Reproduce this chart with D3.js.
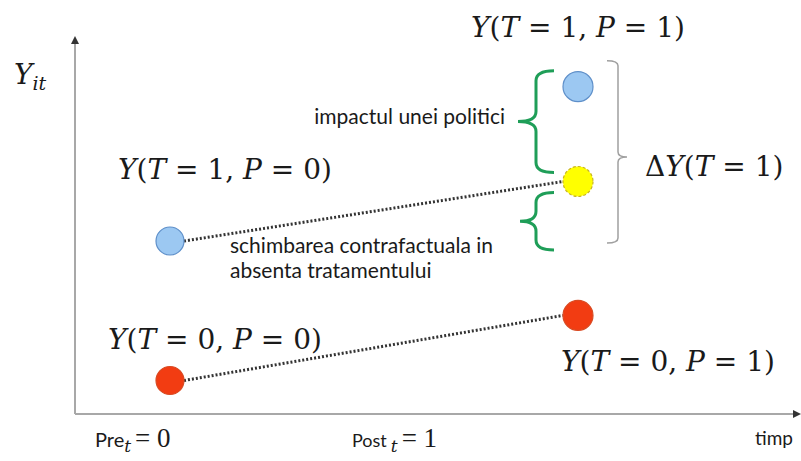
<!DOCTYPE html>
<html>
<head>
<meta charset="utf-8">
<script src="https://cdn.jsdelivr.net/npm/d3@7"></script>
<style>
  body { margin: 0; background: #fff; }
  svg { display: block; }
</style>
</head>
<body>
<div id="chart"></div>
<script>
// time periods on the x axis
var periods = ["Pre", "Post"];
var periodValues = [0, 1];

// outcome points (group T, period P, outcome level)
var pointIds = ["blue0", "red0", "red1", "yellow", "blue1"];
var pointPeriods = ["Pre", "Pre", "Post", "Post", "Post"];
var pointValues = [4.65, 0.9, 2.65, 6.25, 8.8];
var pointTypes = ["treated", "control", "control", "counterfactual", "treated"];

// point labels
var pointLabels = ["Y(T = 1, P = 0)", "Y(T = 0, P = 0)", "Y(T = 0, P = 1)", "", "Y(T = 1, P = 1)"];

// annotation texts
var yAxisLabel = ["Y", "it"];
var xAxisLabel = "timp";
var impactLabel = "impactul unei politici";
var changeLabel = ["schimbarea contrafactuala in", "absenta tratamentului"];
var deltaLabel = "\u0394Y(T = 1)";

var width = 801, height = 461;

var svg = d3.select("#chart").append("svg")
  .attr("width", width)
  .attr("height", height);

svg.append("rect").attr("width", width).attr("height", height).attr("fill", "#fff");

var x = d3.scalePoint()
  .domain(periods)
  .range([170, 578]);

var y = d3.scaleLinear()
  .domain([0, 10])
  .range([414, 42]);

var axisLeftX = 75, axisBottomY = 414;

var defs = svg.append("defs");
defs.append("marker")
  .attr("id", "arrow")
  .attr("viewBox", "0 0 10 10")
  .attr("refX", 5).attr("refY", 5)
  .attr("markerWidth", 4).attr("markerHeight", 4)
  .attr("orient", "auto")
  .append("path")
  .attr("d", "M0,0 L10,5 L0,10 z")
  .attr("fill", "#333");

// axes (no ticks)
var xAxisG = svg.append("g")
  .attr("transform", "translate(0," + axisBottomY + ")")
  .call(d3.axisBottom(d3.scaleLinear().domain([0, 1]).range([axisLeftX, 797])).tickSize(0).tickValues([]));
xAxisG.select(".domain").attr("stroke", "#a8a8a8").attr("stroke-width", 2)
  .attr("d", "M" + axisLeftX + ",0H797")
  .attr("marker-end", "url(#arrow)");

var yAxisG = svg.append("g")
  .attr("transform", "translate(" + axisLeftX + ",0)")
  .call(d3.axisLeft(d3.scaleLinear().domain([0, 1]).range([axisBottomY, 40])).tickSize(0).tickValues([]));
yAxisG.select(".domain").attr("stroke", "#a8a8a8").attr("stroke-width", 2)
  .attr("d", "M0," + axisBottomY + "V40")
  .attr("marker-end", "url(#arrow)");

var pts = pointIds.map(function(id, i) {
  return { id: id, period: pointPeriods[i], value: pointValues[i], type: pointTypes[i], label: pointLabels[i] };
});
function P(id) { return pts.find(function(d) { return d.id === id; }); }

// dotted trend lines
var links = [["blue0", "yellow"], ["red0", "red1"]];
svg.selectAll(".trend")
  .data(links)
  .enter()
  .append("line")
  .attr("x1", function(d) { return x(P(d[0]).period) + 14; })
  .attr("y1", function(d) { return y(P(d[0]).value); })
  .attr("x2", function(d) { return x(P(d[1]).period) - 15; })
  .attr("y2", function(d) { return y(P(d[1]).value); })
  .attr("stroke", "#333")
  .attr("stroke-width", 3)
  .attr("stroke-dasharray", "2,2");

// braces
function leftBrace(xEnd, xSpine, xTip, y0, y1) {
  var ym = (y0 + y1) / 2, r = 10;
  return "M" + xEnd + "," + y0 +
    " Q" + xSpine + "," + y0 + " " + xSpine + "," + (y0 + r) +
    " L" + xSpine + "," + (ym - r) +
    " Q" + xSpine + "," + ym + " " + xTip + "," + ym +
    " Q" + xSpine + "," + ym + " " + xSpine + "," + (ym + r) +
    " L" + xSpine + "," + (y1 - r) +
    " Q" + xSpine + "," + y1 + " " + xEnd + "," + y1;
}
var xPost = x("Post");
svg.append("path")
  .attr("d", leftBrace(xPost - 24, xPost - 42, xPost - 60, y(P("blue1").value) - 16, y(P("yellow").value) - 9))
  .attr("fill", "none").attr("stroke", "#1f9e58").attr("stroke-width", 3);
svg.append("path")
  .attr("d", leftBrace(xPost - 24, xPost - 42, xPost - 58, y(P("yellow").value) + 11, y(P("blue0").value) + 9))
  .attr("fill", "none").attr("stroke", "#1f9e58").attr("stroke-width", 3);

// grey bracket (right-pointing)
function rightBrace(xEnd, xSpine, xTip, y0, y1, ym) {
  var r = 5;
  return "M" + xEnd + "," + y0 +
    " Q" + xSpine + "," + y0 + " " + xSpine + "," + (y0 + r) +
    " L" + xSpine + "," + (ym - r) +
    " Q" + xSpine + "," + ym + " " + xTip + "," + ym +
    " Q" + xSpine + "," + ym + " " + xSpine + "," + (ym + r) +
    " L" + xSpine + "," + (y1 - r) +
    " Q" + xSpine + "," + y1 + " " + xEnd + "," + y1;
}
svg.append("path")
  .attr("d", rightBrace(xPost + 29, xPost + 40, xPost + 49, y(P("blue1").value) - 26, y(P("blue0").value) + 2, 157))
  .attr("fill", "none").attr("stroke", "#a0a0a0").attr("stroke-width", 1.5);

// points
var fills = { treated: "#9cc8f2", control: "#f23c12", counterfactual: "#ffff00" };
var strokes = { treated: "#5e8fc9", control: "#d94a22", counterfactual: "#c9b520" };
svg.selectAll(".pt")
  .data(pts)
  .enter()
  .append("circle")
  .attr("cx", function(d) { return x(d.period); })
  .attr("cy", function(d) { return y(d.value); })
  .attr("r", function(d) { return d.period === "Pre" ? 14 : 15; })
  .attr("fill", function(d) { return fills[d.type]; })
  .attr("stroke", function(d) { return strokes[d.type]; })
  .attr("stroke-width", 1.2)
  .attr("stroke-dasharray", function(d) { return d.type === "counterfactual" ? "3,2" : null; });

// math text helper: capital letters italic
function mathText(sel, str) {
  str.split("").forEach(function(ch) {
    sel.append("tspan")
      .attr("font-style", /[A-Z]/.test(ch) ? "italic" : "normal")
      .text(ch);
  });
}

var serif = "DejaVu Serif, Liberation Serif, serif";
var sans = "Lato, Open Sans, sans-serif";

var labelOffsets = {
  blue0: [55, -62],
  red0: [45, -32],
  red1: [90, 56],
  blue1: [0, -50]
};
pts.filter(function(d) { return d.label; }).forEach(function(d) {
  var t = svg.append("text")
    .attr("x", x(d.period) + labelOffsets[d.id][0])
    .attr("y", y(d.value) + labelOffsets[d.id][1])
    .attr("text-anchor", "middle")
    .attr("font-family", serif)
    .attr("font-size", 28)
    .attr("fill", "#1a1a1a");
  mathText(t, d.label);
});

var dt = svg.append("text")
  .attr("x", xPost + 67)
  .attr("y", 176)
  .attr("font-family", serif)
  .attr("font-size", 28)
  .attr("fill", "#1a1a1a");
mathText(dt, deltaLabel);

// Y_it label
var yl = svg.append("text")
  .attr("x", 14).attr("y", 84)
  .attr("font-family", serif).attr("font-size", 28).attr("font-style", "italic").attr("fill", "#1a1a1a");
yl.append("tspan").text(yAxisLabel[0]);
yl.append("tspan").attr("font-size", 19).attr("dy", 6).text(yAxisLabel[1]);

// annotations
svg.append("text")
  .attr("x", 505).attr("y", 124)
  .attr("text-anchor", "end")
  .attr("font-family", sans).attr("font-size", 21).attr("fill", "#1a1a1a")
  .text(impactLabel);

svg.selectAll(".chg")
  .data(changeLabel)
  .enter()
  .append("text")
  .attr("x", 230)
  .attr("y", function(d, i) { return 253 + i * 25; })
  .attr("font-family", sans).attr("font-size", 21).attr("fill", "#1a1a1a")
  .text(function(d) { return d; });

// period labels under the axis
var periodPrefix = { Pre: ["Pre", -75, 0, 20], Post: ["Post", -226, 4, 18] };
periods.forEach(function(p, i) {
  var t = svg.append("text")
    .attr("x", x(p) + periodPrefix[p][1])
    .attr("y", 447)
    .attr("fill", "#1a1a1a");
  t.append("tspan").attr("font-family", sans).attr("font-size", periodPrefix[p][3]).text(periodPrefix[p][0]);
  t.append("tspan").attr("font-family", serif).attr("font-style", "italic").attr("font-size", 17)
    .attr("dx", periodPrefix[p][2]).attr("dy", 5).text("t");
  t.append("tspan").attr("font-family", "Liberation Serif, serif").attr("font-size", 27)
    .attr("dx", 4).attr("dy", -5).text("= " + periodValues[i]);
});

svg.append("text")
  .attr("x", 755).attr("y", 445)
  .attr("font-family", sans).attr("font-size", 19).attr("fill", "#1a1a1a")
  .text(xAxisLabel);
</script>
</body>
</html>
